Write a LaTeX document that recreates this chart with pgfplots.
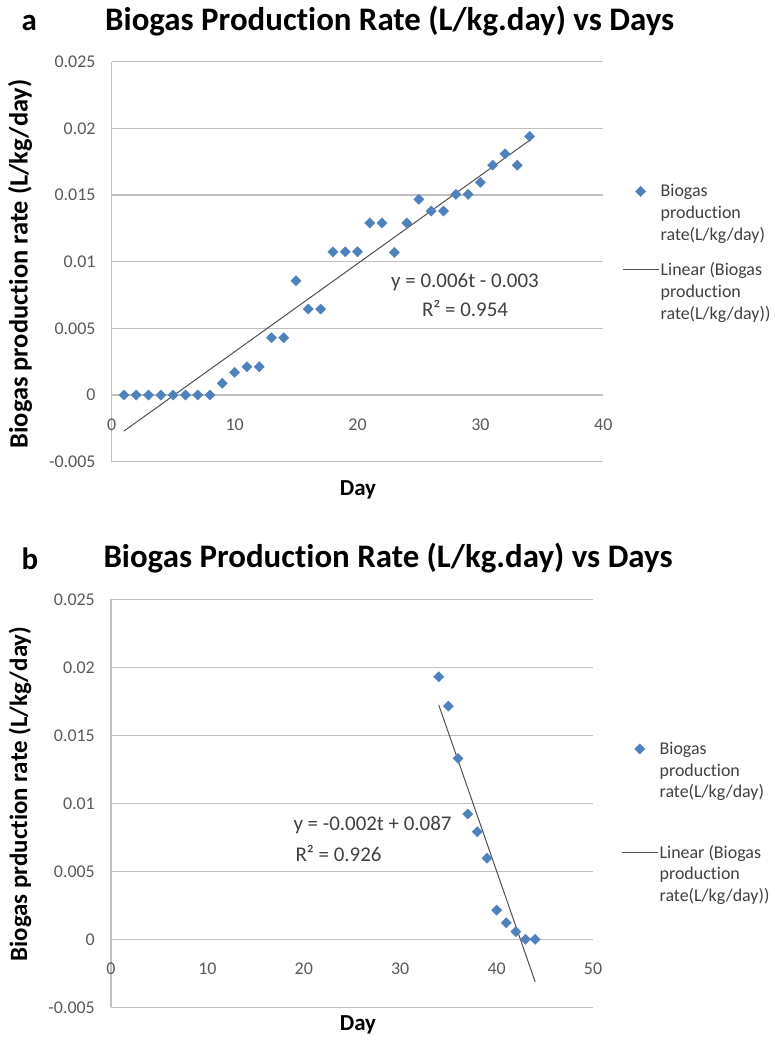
\documentclass[border=0pt]{standalone}
\usepackage{pgfplots}
\pgfplotsset{compat=1.18}
\usepackage{fontspec}
\setmainfont{Carlito}[Ligatures=NoCommon]
\definecolor{mblue}{HTML}{4F81BD}
\definecolor{gridc}{HTML}{C0C0C0}
\definecolor{tickc}{HTML}{595959}
\definecolor{textc}{HTML}{404040}
\definecolor{trendc}{HTML}{505050}
\pgfplotsset{
  mystyle/.style={
    scale only axis,
    axis lines*=left,
    axis line style={gridc, line width=1.3bp},
    ymajorgrids,
    grid style={gridc, line width=1.3bp},
    major tick length=0pt,
    scaled y ticks=false, scaled x ticks=false,
    ymin=-0.005, ymax=0.025,
    ytick={-0.005,0,0.005,0.01,0.015,0.02,0.025},
    yticklabels={-0.005,0,0.005,0.01,0.015,0.02,0.025},
    yticklabel style={anchor=east, inner sep=0pt, xshift=-16bp, font=\fontsize{18}{21.6}\selectfont, text=tickc},
    xticklabel style={anchor=center, inner sep=0pt, font=\fontsize{18}{21.6}\selectfont, text=tickc},
    legend cell align=left,
    legend style={draw=none, fill=none, font=\fontsize{18}{21.7}\selectfont, text=textc,
      cells={align=left}, inner sep=0pt, nodes={inner sep=1.5bp}},
    clip=false,
  },
  scat/.style={only marks, mark=square*, mark size=3.6bp,
    mark options={rotate=45, fill=mblue, draw=mblue},
    legend image code/.code={\draw[##1, mark repeat=2, mark phase=2] plot coordinates {(0bp,21.7bp) (18bp,21.7bp) (36bp,21.7bp)};}},
  trend/.style={trendc, line width=1bp, no marks,
    legend image code/.code={\draw[##1] (0bp,21.7bp) -- (36bp,21.7bp);}},
}
\begin{document}
\begin{tikzpicture}
\path[use as bounding box] (0bp,0bp) rectangle (775bp,1040bp);
% ---------- panel a ----------
\node[anchor=base west, font=\bfseries\fontsize{31}{36}\selectfont] at (18bp,1009.3bp) {a};
\node[anchor=base west, font=\bfseries\fontsize{33}{38}\selectfont] at (101.7bp,1009.3bp) {Biogas Production Rate (L/kg.day) vs Days};
\node[rotate=90, font=\bfseries\fontsize{26.5}{30}\selectfont] at (20bp,776bp) {Biogas production rate (L/kg/day)};
\node[font=\bfseries\fontsize{23}{28}\selectfont] at (358bp,550bp) {Day};
\begin{axis}[mystyle,
  at={(111.7bp,578.3bp)}, anchor=south west,
  width=491.6bp, height=400bp,
  xmin=0, xmax=40, xtick={0,10,20,30,40}, xticklabels={0,10,20,30,40},
  xticklabel style={yshift=36.7bp},
  legend style={at={(1.038,0.697)}, anchor=north west, row sep=18bp},
]
\addplot[scat] coordinates {
(1,0) (2,0) (3,0) (4,0) (5,0) (6,0) (7,0) (8,0)
(9,0.00088) (10,0.0017) (11,0.00212) (12,0.00212) (13,0.0043) (14,0.0043)
(15,0.00857) (16,0.00645) (17,0.00645) (18,0.01074) (19,0.01074) (20,0.01074)
(21,0.0129) (22,0.0129) (23,0.0107) (24,0.0129) (25,0.01467) (26,0.0138)
(27,0.0138) (28,0.01505) (29,0.01505) (30,0.01595) (31,0.01724) (32,0.0181)
(33,0.01724) (34,0.0194)
};
\addlegendentry{Biogas\\production\\rate(L/kg/day)}
\addplot[trend] coordinates {(1,-0.0027) (34,0.0191)};
\addlegendentry{Linear (Biogas\\production\\rate(L/kg/day))}
\end{axis}
\node[font=\fontsize{21}{25}\selectfont, text=textc] at (465bp,758.3bp) {y = 0.006t - 0.003};
\node[font=\fontsize{21}{25}\selectfont, text=textc] at (465bp,731bp) {R² = 0.954};
% ---------- panel b ----------
\node[anchor=base west, font=\bfseries\fontsize{31}{36}\selectfont] at (18bp,470bp) {b};
\node[anchor=base west, font=\bfseries\fontsize{33}{38}\selectfont] at (100bp,472bp) {Biogas Production Rate (L/kg.day) vs Days};
\node[rotate=90, font=\bfseries\fontsize{25}{30}\selectfont] at (20bp,246bp) {Biogas prduction rate (L/kg/day)};
\node[font=\bfseries\fontsize{23}{28}\selectfont] at (358bp,15bp) {Day};
\begin{axis}[mystyle,
  at={(111bp,32.7bp)}, anchor=south west,
  width=482bp, height=408bp,
  xmin=0, xmax=50, xtick={0,10,20,30,40,50}, xticklabels={0,10,20,30,40,50},
  xticklabel style={yshift=39bp},
  legend style={at={(1.058,0.654)}, anchor=north west, row sep=43bp},
]
\addplot[scat] coordinates {
(34,0.0193) (35,0.01715) (36,0.0133) (37,0.00921) (38,0.00791) (39,0.00596)
(40,0.00215) (41,0.00122) (42,0.00056) (43,0) (44,0)
};
\addlegendentry{Biogas\\production\\rate(L/kg/day)}
\addplot[trend] coordinates {(34,0.01723) (44,-0.00312)};
\addlegendentry{Linear (Biogas\\production\\rate(L/kg/day))}
\end{axis}
\node[anchor=west, font=\fontsize{21}{25}\selectfont, text=textc] at (290bp,215bp) {y = -0.002t + 0.087};
\node[anchor=west, font=\fontsize{21}{25}\selectfont, text=textc] at (292bp,186.7bp) {R² = 0.926};
\end{tikzpicture}
\end{document}
